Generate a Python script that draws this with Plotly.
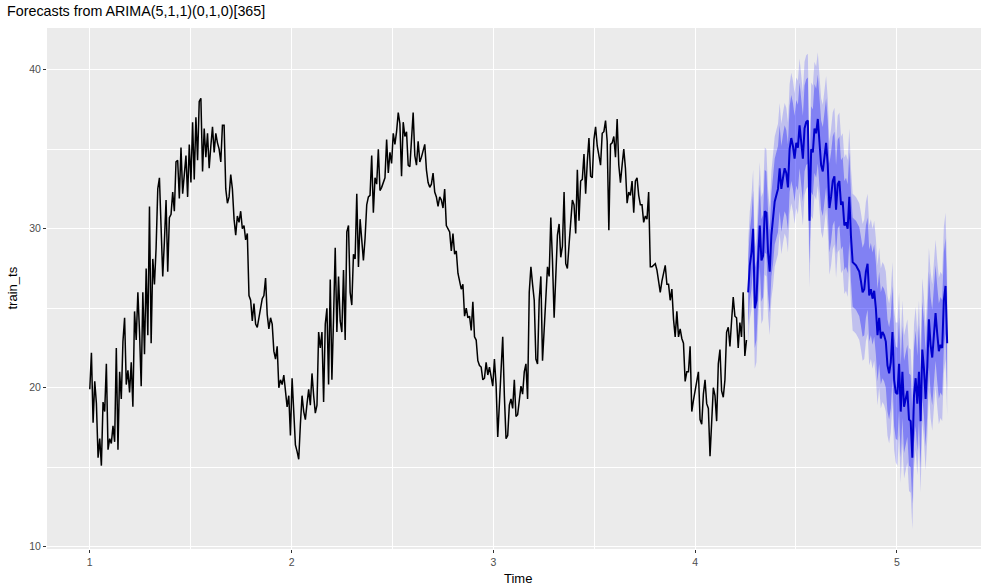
import plotly.graph_objects as go

# ---------------- data ----------------
freq = 365          # daily series, time unit = one year
step_days = 3       # values read every 3 days
start_time = 1.0

train_ts = [
    19.9, 22.2, 17.8, 20.4, 19.0, 15.6, 16.8, 15.1, 19.1, 18.5,
    21.5, 16.1, 16.8, 16.5, 17.6, 16.6, 22.5, 16.1, 21.0, 19.3,
    22.9, 24.4, 20.2, 21.1, 19.7, 21.6, 18.8, 24.8, 23.0, 26.0,
    23.5, 20.1, 26.0, 22.1, 27.5, 23.3, 31.4, 22.8, 28.1, 26.5,
    28.8, 32.5, 33.2, 29.2, 27.0, 29.2, 31.8, 27.3, 30.7, 30.9,
    32.3, 31.1, 34.2, 34.3, 31.9, 35.1, 32.2, 33.4, 34.6, 32.0,
    35.3, 32.9, 36.7, 33.1, 37.0, 34.3, 38.0, 38.2, 33.6, 36.3,
    34.5, 36.0, 33.8, 35.2, 36.4, 34.8, 36.0, 35.4, 35.0, 34.2,
    36.5, 36.5, 32.5, 31.6, 32.0, 33.4, 32.5, 30.6, 29.6, 30.8,
    30.4, 31.1, 30.0, 30.2, 29.3, 29.7, 25.8, 25.5, 24.2, 25.3,
    24.0, 23.8, 24.4, 25.2, 25.6, 25.8, 26.9, 24.6, 23.7, 24.4,
    24.0, 22.3, 21.8, 22.6, 20.0, 20.5, 20.2, 20.8, 19.6, 18.8,
    19.5, 17.0, 20.6, 18.0, 16.4, 16.0, 15.5, 17.7, 19.5, 18.5,
    18.0, 19.0, 19.9, 18.9, 20.9, 19.5, 18.4, 18.9, 23.5, 22.5,
    23.5, 19.1, 24.0, 25.0, 20.2, 26.8, 20.5, 24.4, 28.8, 23.5,
    27.0, 24.2, 23.5, 27.4, 23.0, 29.8, 30.2, 26.0, 25.2, 28.4,
    28.1, 32.2, 27.6, 30.6, 29.0, 28.0, 29.4, 31.5, 32.0, 32.1,
    34.6, 31.0, 33.2, 32.8, 35.0, 32.4, 32.6, 32.9, 33.2, 35.6,
    33.5, 34.8, 34.1, 36.0, 35.3, 36.1, 37.3, 36.6, 33.3, 36.7,
    35.8, 36.1, 34.0, 33.9, 35.9, 37.3, 34.6, 34.0, 35.5, 34.2,
    34.5, 35.0, 35.3, 33.7, 32.9, 32.6, 32.8, 33.5, 32.3, 32.0,
    31.4, 32.0, 31.8, 31.3, 32.5, 30.2, 30.0, 29.8, 28.6, 29.7,
    28.4, 28.6, 27.2, 26.6, 26.2, 26.5, 24.5, 25.0, 24.4, 24.5,
    23.6, 25.4, 23.2, 23.0, 21.7, 21.4, 21.3, 20.5, 20.6, 21.6,
    20.8, 21.3, 20.6, 20.1, 21.8, 20.2, 16.9, 18.8, 20.6, 23.2,
    19.5, 16.8, 17.0, 18.9, 19.3, 18.7, 20.5, 18.2, 18.3, 19.2,
    20.1, 19.6, 21.0, 21.5, 19.3, 26.0, 27.6, 26.5, 25.5, 21.8,
    21.5, 25.5, 27.0, 21.7, 23.9, 25.6, 27.6, 27.0, 30.7, 28.0,
    24.4, 27.0, 29.6, 30.3, 28.2, 28.9, 32.3, 27.8, 27.5, 29.0,
    30.5, 31.8, 31.5, 29.7, 33.7, 30.5, 33.0, 33.1, 34.7, 32.2,
    34.2, 35.7, 33.3, 33.2, 35.6, 36.4, 35.2, 34.6, 34.0, 36.0,
    36.1, 36.8, 35.5, 29.9, 35.3, 35.4, 35.8, 34.5, 36.9, 34.0,
    32.9, 34.0, 35.0, 33.8, 31.6, 32.3, 32.1, 33.0, 31.0, 33.0,
    33.2, 32.1, 31.5, 31.5, 30.4, 30.8, 30.6, 32.3, 27.6, 27.6,
    27.7, 27.8, 27.4, 26.8, 26.0, 26.7, 27.3, 27.7, 26.5, 26.5,
    25.5, 26.2, 24.3, 23.2, 24.8, 23.2, 23.7, 23.1, 22.8, 20.4,
    21.0, 21.0, 22.6, 18.5, 19.2, 19.9, 20.6, 21.0, 18.0, 17.7,
    19.6, 20.5, 19.0, 18.7, 15.7, 18.3, 20.0, 19.5, 17.9, 21.5,
    22.4, 19.8, 19.4, 20.5, 23.5, 23.8, 22.6, 24.2, 25.7, 24.5,
    24.4, 22.5, 24.1, 23.2, 26.0, 22.0, 23.0,
]

forecast_mean = [
    26.0, 27.7, 28.5, 30.0, 25.0, 25.5, 28.1, 30.2, 28.0, 28.3,
    31.1, 31.0, 28.5, 27.3, 29.6, 30.5, 31.7, 32.1, 32.5, 33.8,
    32.5, 33.2, 33.8, 33.5, 32.6, 35.0, 35.7, 35.2, 34.4, 35.4,
    35.1, 36.5, 35.4, 34.4, 36.3, 36.7, 36.8, 30.5, 35.0, 34.8,
    36.3, 36.0, 36.9, 35.4, 34.0, 33.6, 34.6, 35.4, 34.0, 31.3,
    32.0, 33.0, 33.3, 31.2, 32.8, 33.0, 31.5, 31.7, 30.2, 30.4,
    30.0, 32.0, 29.5, 27.9, 27.8, 27.7, 27.5, 27.3, 26.7, 26.0,
    26.2, 27.3, 27.8, 25.8, 26.2, 25.6, 26.1, 25.0, 23.3, 24.4,
    23.1, 23.5, 23.3, 22.9, 21.4, 20.9, 21.6, 23.5, 20.5, 19.7,
    19.6, 21.5, 18.5, 21.0, 18.8, 19.4, 19.8, 18.0, 17.9, 15.6,
    19.5, 20.6, 19.0, 21.0, 17.9, 22.4, 21.2, 19.3, 21.3, 24.3,
    22.7, 21.9, 23.4, 24.7, 23.4, 22.3, 22.7, 22.5, 25.5, 26.4,
    22.8,
]

# half-widths of the prediction intervals
half_width_95 = [
    3.2, 3.4, 3.6, 3.7, 3.8, 3.9, 3.9, 4.0, 4.0, 4.0,
    4.0, 4.0, 4.0, 4.0, 4.0, 4.1, 4.1, 4.1, 4.1, 4.1,
    4.1, 4.1, 4.1, 4.1, 4.1, 4.1, 4.1, 4.1, 4.1, 4.1,
    4.2, 4.2, 4.2, 4.2, 4.2, 4.2, 4.2, 4.2, 4.2, 4.2,
    4.2, 4.2, 4.2, 4.2, 4.2, 4.2, 4.2, 4.2, 4.2, 4.2,
    4.3, 4.3, 4.3, 4.3, 4.3, 4.3, 4.3, 4.3, 4.3, 4.3,
    4.3, 4.3, 4.3, 4.3, 4.3, 4.3, 4.3, 4.3, 4.3, 4.3,
    4.4, 4.4, 4.4, 4.4, 4.4, 4.4, 4.4, 4.4, 4.4, 4.4,
    4.4, 4.4, 4.4, 4.4, 4.4, 4.4, 4.4, 4.4, 4.4, 4.4,
    4.5, 4.5, 4.5, 4.5, 4.5, 4.5, 4.5, 4.5, 4.5, 4.5,
    4.5, 4.5, 4.5, 4.5, 4.5, 4.5, 4.5, 4.5, 4.5, 4.5,
    4.6, 4.6, 4.6, 4.6, 4.6, 4.6, 4.6, 4.6, 4.6, 4.6,
    4.6,
]
half_width_80 = [
    2.1, 2.2, 2.3, 2.4, 2.5, 2.5, 2.5, 2.6, 2.6, 2.6,
    2.6, 2.6, 2.6, 2.6, 2.6, 2.7, 2.7, 2.7, 2.7, 2.7,
    2.7, 2.7, 2.7, 2.7, 2.7, 2.7, 2.7, 2.7, 2.7, 2.7,
    2.7, 2.7, 2.7, 2.7, 2.7, 2.7, 2.7, 2.7, 2.7, 2.7,
    2.8, 2.8, 2.8, 2.8, 2.8, 2.8, 2.8, 2.8, 2.8, 2.8,
    2.8, 2.8, 2.8, 2.8, 2.8, 2.8, 2.8, 2.8, 2.8, 2.8,
    2.8, 2.8, 2.8, 2.8, 2.8, 2.8, 2.8, 2.8, 2.8, 2.8,
    2.9, 2.9, 2.9, 2.9, 2.9, 2.9, 2.9, 2.9, 2.9, 2.9,
    2.9, 2.9, 2.9, 2.9, 2.9, 2.9, 2.9, 2.9, 2.9, 2.9,
    2.9, 2.9, 2.9, 2.9, 2.9, 2.9, 2.9, 2.9, 2.9, 2.9,
    3.0, 3.0, 3.0, 3.0, 3.0, 3.0, 3.0, 3.0, 3.0, 3.0,
    3.0, 3.0, 3.0, 3.0, 3.0, 3.0, 3.0, 3.0, 3.0, 3.0,
    3.0,
]

x_ticks = [1, 2, 3, 4, 5]
y_ticks = [10, 20, 30, 40]
title_text = "Forecasts from ARIMA(5,1,1)(0,1,0)[365]"
x_title = "Time"
y_title = "train_ts"

# ---------------- derived series ----------------
n_train = len(train_ts)
t_train = [start_time + i * step_days / freq for i in range(n_train)]
t_fc = [start_time + (n_train + i) * step_days / freq for i in range(len(forecast_mean))]
up95 = [m + w for m, w in zip(forecast_mean, half_width_95)]
lo95 = [m - w for m, w in zip(forecast_mean, half_width_95)]
up80 = [m + w for m, w in zip(forecast_mean, half_width_80)]
lo80 = [m - w for m, w in zip(forecast_mean, half_width_80)]

FONT = "Liberation Sans, Arial, Helvetica, sans-serif"

fig = go.Figure()
fig.add_trace(go.Scatter(x=t_train, y=train_ts, mode="lines",
                         line=dict(color="black", width=1.5), showlegend=False))
fig.add_trace(go.Scatter(x=t_fc, y=up95, mode="lines", line=dict(width=0),
                         showlegend=False, hoverinfo="skip"))
fig.add_trace(go.Scatter(x=t_fc, y=lo95, mode="lines", line=dict(width=0),
                         fill="tonexty", fillcolor="rgba(0,0,255,0.18)",
                         showlegend=False, hoverinfo="skip"))
fig.add_trace(go.Scatter(x=t_fc, y=up80, mode="lines", line=dict(width=0),
                         showlegend=False, hoverinfo="skip"))
fig.add_trace(go.Scatter(x=t_fc, y=lo80, mode="lines", line=dict(width=0),
                         fill="tonexty", fillcolor="rgba(0,0,255,0.33)",
                         showlegend=False, hoverinfo="skip"))
fig.add_trace(go.Scatter(x=t_fc, y=forecast_mean, mode="lines",
                         line=dict(color="#0000CC", width=2), showlegend=False))

W, H = 981, 588
ml, mr, mt, mb = 47, 0, 28, 39
pw, ph = W - ml - mr, H - mt - mb

axis_common = dict(
    showgrid=True, gridcolor="white", gridwidth=1.1,
    zeroline=False, showline=False,
    ticks="outside", ticklen=3, tickwidth=1, tickcolor="#333333",
    tickfont=dict(family=FONT, size=10.5, color="#4D4D4D"),
)

fig.update_layout(
    width=W, height=H,
    margin=dict(l=ml, r=mr, t=mt, b=mb, pad=0),
    paper_bgcolor="white", plot_bgcolor="#EBEBEB",
    font=dict(family=FONT),
    title=dict(text=title_text, x=7 / W, xref="container", xanchor="left",
               y=1 - 11 / H, yref="container", yanchor="middle",
               font=dict(family=FONT, size=14.3, color="black")),
    xaxis=dict(range=[0.788, 5.417], tickvals=x_ticks,
               ticktext=[str(v) for v in x_ticks],
               minor=dict(tickvals=[v + 0.5 for v in x_ticks], showgrid=True,
                          gridcolor="white", gridwidth=0.55, ticks=""),
               **axis_common),
    yaxis=dict(range=[9.86, 42.62], tickvals=y_ticks,
               ticktext=[str(v) for v in y_ticks],
               minor=dict(tickvals=[v + 5 for v in y_ticks], showgrid=True,
                          gridcolor="white", gridwidth=0.55, ticks=""),
               **axis_common),
)

fig.add_annotation(text=x_title, xref="paper", yref="paper",
                   x=(518 - ml) / pw, y=-(578 - (mt + ph)) / ph,
                   xanchor="center", yanchor="middle", showarrow=False,
                   font=dict(family=FONT, size=13, color="black"))
fig.add_annotation(text=y_title, xref="paper", yref="paper",
                   x=-(ml - 12) / pw, y=0.5, textangle=-90,
                   xanchor="center", yanchor="middle", showarrow=False,
                   font=dict(family=FONT, size=13, color="black"))

fig.write_html("out.html")
